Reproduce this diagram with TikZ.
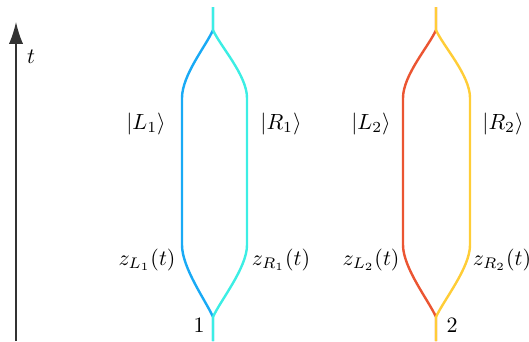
\documentclass[tikz,border=0pt]{standalone}
\usepackage{amsmath, amssymb}
\usepackage{tikz}
\usepackage{xcolor}
\usetikzlibrary{arrows.meta, positioning}
\definecolor{lblue}{RGB}{25,170,245}
\definecolor{laqua}{RGB}{60,238,228}
\definecolor{lred}{RGB}{235,85,50}
\definecolor{lyellow}{RGB}{255,205,55}

\begin{document}
\begin{tikzpicture}[x=0.016cm, y=0.016cm,
    wl/.style={line width=1.1pt},
    axis/.style={line width=0.6pt, black!80, -{Latex[length=10pt, width=6.5pt]}}]
    \useasboundingbox (0,0) rectangle (529,341);

    % Time axis
    \coordinate (t0) at (16,0);
    \coordinate (t1) at (16,319);
    \draw[axis] (t0) -- (t1);
    \node (tlab) at (31,284) {$t$};

    % Particle 1
    \coordinate (top1) at (213,334);
    \coordinate (split1) at (213,311);
    \coordinate (merge1) at (213,24);
    \coordinate (bot1) at (213,0);
    \draw[wl, lblue] (top1) -- (split1) .. controls (206,295) and (182,266) .. (182,243)
        -- (182,96) .. controls (182,73) and (206,40) .. (merge1) -- (bot1);
    \draw[wl, laqua] (top1) -- (split1) .. controls (220,295) and (247,266) .. (247,243)
        -- (247,96) .. controls (247,73) and (220,40) .. (merge1) -- (bot1);
    \node (L1) at (146,217) {$|L_1\rangle$};
    \node (R1) at (281,217) {$|R_1\rangle$};
    \node (zL1) at (147,81) {$z_{L_1}(t)$};
    \node (zR1) at (281,81) {$z_{R_1}(t)$};
    \node (n1) at (199,16) {$1$};

    % Particle 2
    \coordinate (top2) at (436,334);
    \coordinate (split2) at (436,311);
    \coordinate (merge2) at (436,24);
    \coordinate (bot2) at (436,0);
    \draw[wl, lred] (top2) -- (split2) .. controls (429,295) and (403,266) .. (403,243)
        -- (403,96) .. controls (403,73) and (429,40) .. (merge2) -- (bot2);
    \draw[wl, lyellow] (top2) -- (split2) .. controls (443,295) and (470,266) .. (470,243)
        -- (470,96) .. controls (470,73) and (443,40) .. (merge2) -- (bot2);
    \node (L2) at (371,217) {$|L_2\rangle$};
    \node (R2) at (503,217) {$|R_2\rangle$};
    \node (zL2) at (371,81) {$z_{L_2}(t)$};
    \node (zR2) at (502,81) {$z_{R_2}(t)$};
    \node (n2) at (452,16) {$2$};
\end{tikzpicture}
\end{document}
